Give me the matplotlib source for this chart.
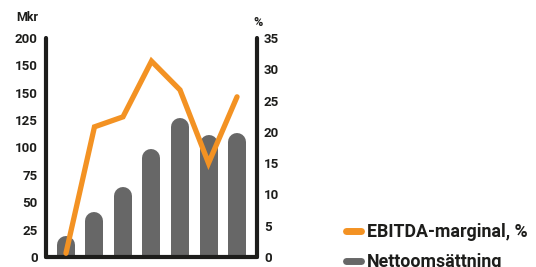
import matplotlib
matplotlib.use('Agg')
import matplotlib.pyplot as plt
from matplotlib.lines import Line2D

# Data
years = list(range(7))
omsattning = [19, 41, 64, 99, 127, 111, 113]          # Mkr
ebitda_marginal = [0.6, 20.8, 22.4, 31.3, 26.7, 15.0, 25.6]  # %
left_ticks = [0, 25, 50, 75, 100, 125, 150, 175, 200]
left_labels = ['0', '25', '50', '75', '100', '125', '150', '150', '200']
right_ticks = [0, 5, 10, 15, 20, 25, 30, 35]

dark = '#1d1d1b'
bar_col = '#676767'
orange = '#F39223'

plt.rcParams['font.family'] = ['Roboto', 'DejaVu Sans']
plt.rcParams['font.weight'] = 'bold'

fig = plt.figure(figsize=(5.36, 2.67), dpi=100)
ax = fig.add_axes([46 / 536, 10 / 267, 211 / 536, 219 / 267])
ax2 = ax.twinx()

ax.set_xlim(-0.7, 6.7)
ax.set_ylim(0, 200)
ax2.set_ylim(0, 35)

# rounded bars: thick lines with round caps, top end lowered by cap radius
bar_px = 18
r_data = (bar_px / 2) * 200 / 219
bars = ax.vlines(years, 0, [v - r_data for v in omsattning], colors=bar_col,
                 linewidth=bar_px * 0.72)
bars.set_capstyle('round')

ax2.plot(years, ebitda_marginal, color=orange, lw=3.8,
         solid_capstyle='round', solid_joinstyle='miter')

for a in (ax, ax2):
    for s in a.spines.values():
        s.set_visible(False)
ax.spines['left'].set_visible(True)
ax.spines['bottom'].set_visible(True)
ax2.spines['right'].set_visible(True)
for s in (ax.spines['left'], ax.spines['bottom'], ax2.spines['right']):
    s.set_linewidth(3)
    s.set_color(dark)
    s.set_capstyle('round')

ax.set_xticks([])
ax.set_yticks(left_ticks)
ax.set_yticklabels(left_labels)
ax2.set_yticks(right_ticks)
ax.tick_params(axis='y', length=0, pad=6, labelsize=9.5, labelcolor=dark)
ax2.tick_params(axis='y', length=0, pad=5, labelsize=9.5, labelcolor=dark)
for lab in ax.get_yticklabels() + ax2.get_yticklabels():
    lab.set_fontweight('bold')

fig.text(16 / 536, 1 - 18 / 267, 'Mkr', fontsize=9, color=dark, va='center',
         ha='left', fontweight='bold')
fig.text(258 / 536, 1 - 22 / 267, '%', fontsize=9, color=dark, va='center',
         ha='center', fontweight='bold')

handles = [Line2D([], [], color=orange, lw=5, solid_capstyle='round'),
           Line2D([], [], color=bar_col, lw=5, solid_capstyle='round')]
leg = fig.legend(handles, ['EBITDA-marginal, %', 'Nettoomsättning'], loc='upper left',
                 bbox_to_anchor=(330 / 536, 1 - 207 / 267), frameon=False,
                 prop={'size': 12.8, 'weight': 'bold'}, handlelength=0.85,
                 handletextpad=0.35, labelspacing=0.67, labelcolor=dark)

fig.savefig('out.png', dpi=100)
